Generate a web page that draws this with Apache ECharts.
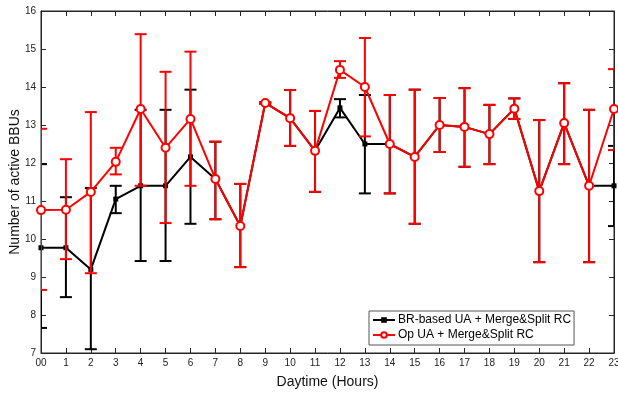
<!DOCTYPE html>
<html><head><meta charset="utf-8">
<script src="https://cdn.jsdelivr.net/npm/echarts@6/dist/echarts.min.js"></script>
<style>html,body{margin:0;padding:0;background:#fff}#c{width:618px;height:393px}</style>
</head><body><div id="c"></div>
<script>
const hours = ['00','1','2','3','4','5','6','7','8','9','10','11','12','13','14','15','16','17','18','19','20','21','22','23'];
const brMean = [9.77,9.77,9.2,11.05,11.4,11.4,12.16,11.58,10.34,13.58,13.18,12.32,13.45,12.5,12.5,12.16,13.0,12.95,12.76,13.43,11.26,13.05,11.4,11.4];
const brHigh = [11.97,11.1,11.34,11.4,13.4,13.4,13.93,12.56,11.45,13.6,13.92,13.37,13.68,13.79,13.79,13.93,13.71,13.97,13.53,13.7,13.13,14.1,13.4,12.45];
const brLow  = [7.66,8.47,7.1,10.68,9.42,9.42,10.4,10.52,9.26,13.56,12.45,11.24,13.2,11.2,11.2,10.4,12.29,11.9,11.97,13.16,9.39,11.97,9.39,10.34];
const opMean = [10.76,10.77,11.24,12.03,13.42,12.4,13.16,11.58,10.34,13.58,13.18,12.32,14.45,14.0,12.5,12.16,13.0,12.95,12.76,13.43,11.26,13.05,11.4,13.42];
const opHigh = [12.9,12.1,13.34,12.4,15.39,14.4,14.93,12.56,11.45,13.6,13.92,13.37,14.68,15.29,13.79,13.93,13.71,13.97,13.53,13.7,13.13,14.1,13.4,14.47];
const opLow  = [8.66,9.47,9.1,11.7,11.4,10.42,11.4,10.52,9.26,13.56,12.45,11.24,14.24,12.7,11.2,10.4,12.29,11.9,11.97,13.16,9.39,11.97,9.39,12.34];
const seriesNames = ['BR-based UA + Merge&Split RC','Op UA + Merge&Split RC'];
const yTicks = {min:7, max:16, interval:1};

const chart = echarts.init(document.getElementById('c'));
function errData(lo, hi){ return hours.map((h,i)=>[i, lo[i], hi[i]]); }
function errRender(color){
  return function(params, api){
    const x = api.value(0);
    const lo = api.coord([x, api.value(1)]);
    const hi = api.coord([x, api.value(2)]);
    const w = 6;
    const st = {stroke: color, lineWidth: 2};
    return {type:'group', children:[
      {type:'line', shape:{x1:lo[0],y1:lo[1],x2:hi[0],y2:hi[1]}, style:st},
      {type:'line', shape:{x1:lo[0]-w,y1:lo[1],x2:lo[0]+w,y2:lo[1]}, style:st},
      {type:'line', shape:{x1:hi[0]-w,y1:hi[1],x2:hi[0]+w,y2:hi[1]}, style:st}
    ]};
  };
}
const axisCol = '#262626';
const font = 'Liberation Sans, Arial, sans-serif';
chart.setOption({
  animation:false,
  textStyle:{fontFamily:font},
  grid:{left:41, right:4, top:11, bottom:40, show:true, borderColor:axisCol, borderWidth:1, outerBoundsMode:'none', containLabel:false},
  legend:{
    left:369, top:311, orient:'vertical', itemGap:3, itemWidth:22, itemHeight:7,
    padding:[3,3,4,3], backgroundColor:'#fff', borderColor:'#555', borderWidth:1,
    textStyle:{fontSize:12, color:'#000', fontFamily:font, padding:[0,0,0,-2]},
    data:seriesNames
  },
  xAxis:[{
    type:'category', data:hours, boundaryGap:false,
    axisLine:{lineStyle:{color:axisCol}}, axisTick:{inside:true, length:5, lineStyle:{color:axisCol}},
    axisLabel:{color:'#222', fontSize:10, margin:5, interval:0},
    name:'Daytime (Hours)', nameLocation:'middle', nameGap:22, nameMoveOverlap:false, nameTextStyle:{fontSize:14, color:'#111'}
  },{
    type:'category', data:hours, boundaryGap:false, position:'top',
    axisLine:{lineStyle:{color:axisCol}}, axisTick:{inside:true, length:5, lineStyle:{color:axisCol}},
    axisLabel:{show:false}
  }],
  yAxis:[{
    type:'value', min:yTicks.min, max:yTicks.max, interval:yTicks.interval,
    axisLine:{show:true, lineStyle:{color:axisCol}}, axisTick:{show:true, inside:true, length:5, lineStyle:{color:axisCol}},
    splitLine:{show:false}, axisLabel:{color:'#222', fontSize:10, margin:5},
    name:'Number of active BBUs', nameLocation:'middle', nameGap:19, nameMoveOverlap:false, nameTextStyle:{fontSize:14, color:'#111'}
  },{
    type:'value', min:yTicks.min, max:yTicks.max, interval:yTicks.interval, position:'right',
    axisLine:{show:true, lineStyle:{color:axisCol}}, axisTick:{show:true, inside:true, length:5, lineStyle:{color:axisCol}},
    splitLine:{show:false}, axisLabel:{show:false}
  }],
  series:[
    {type:'custom', name:'brErr', clip:true, renderItem:errRender('#000'), data:errData(brLow, brHigh), z:2},
    {type:'line', name:seriesNames[0], data:brMean, symbol:'rect', symbolSize:5,
      lineStyle:{color:'#000', width:2}, itemStyle:{color:'#000'}, z:3},
    {type:'custom', name:'opErr', clip:true, renderItem:errRender('#ff0000'), data:errData(opLow, opHigh), z:4},
    {type:'line', name:seriesNames[1], data:opMean, symbol:'emptyCircle', symbolSize:8,
      lineStyle:{color:'#ff0000', width:2}, itemStyle:{color:'#ff0000', borderWidth:2}, z:5}
  ]
});
</script></body></html>
